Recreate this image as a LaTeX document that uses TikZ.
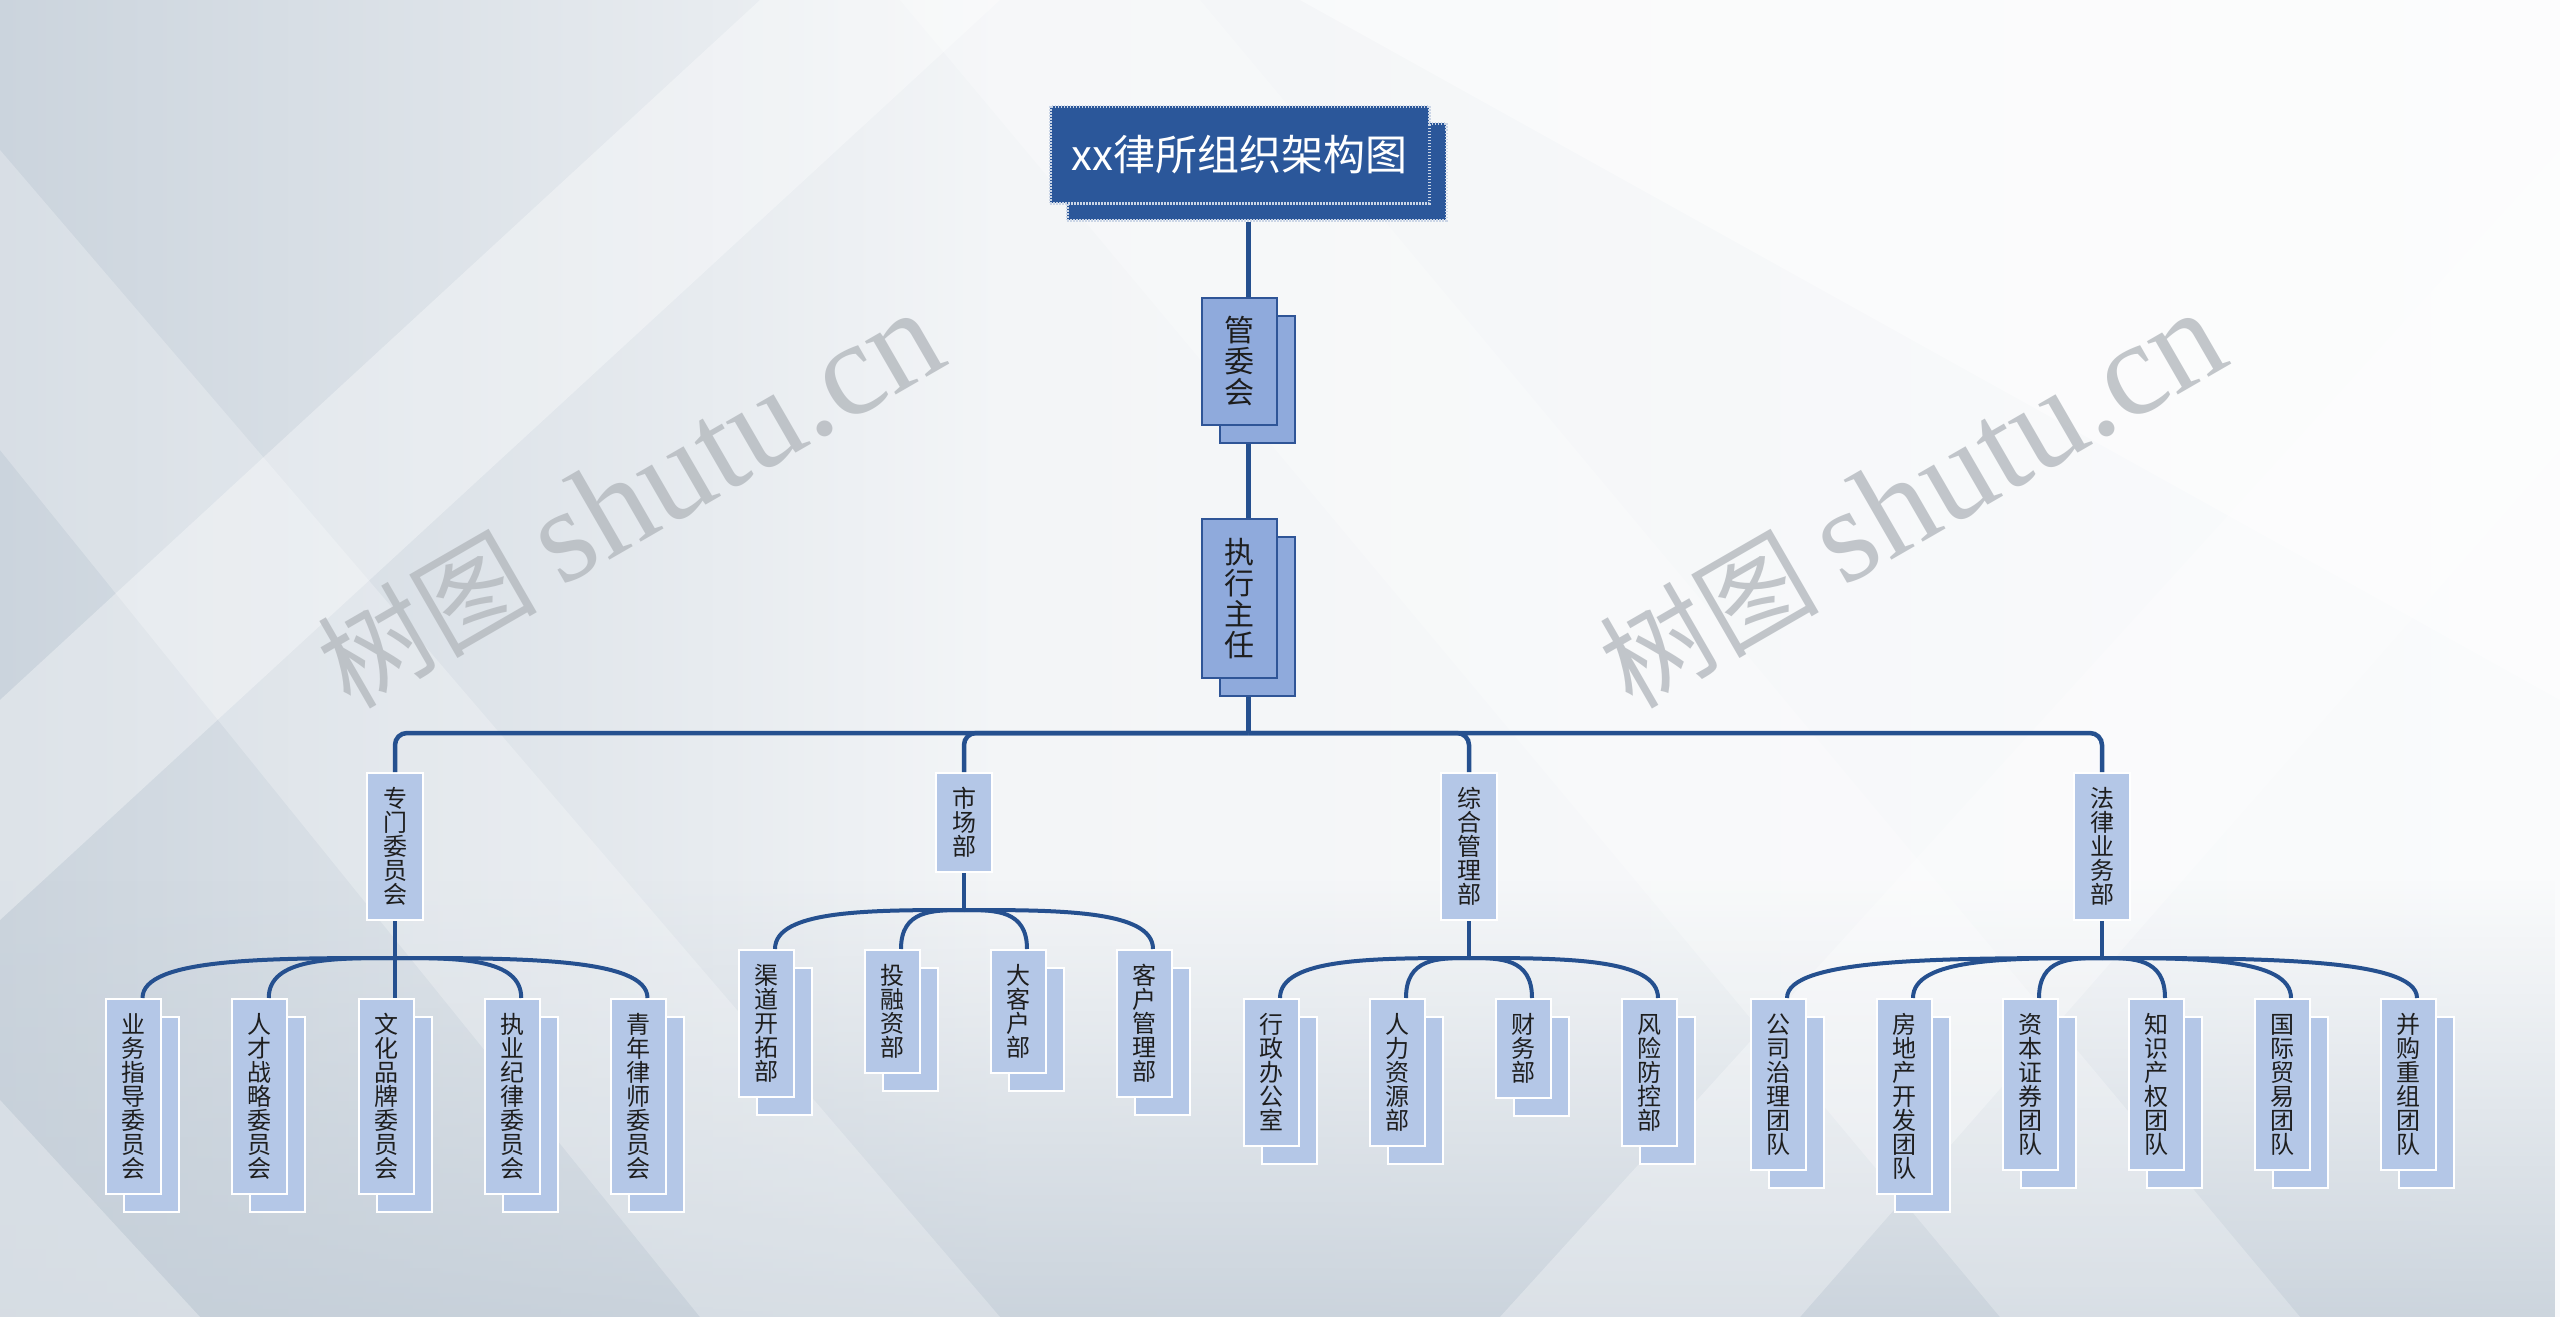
\documentclass[tikz,border=0pt]{standalone}
\usepackage{fontspec}
\setmainfont{Noto Sans CJK SC}
\newfontfamily\wmserif{Liberation Serif}
\usetikzlibrary{calc,fadings}
\definecolor{conn}{HTML}{25508F}
\definecolor{titlebl}{HTML}{2B579A}
\definecolor{lvone}{HTML}{8FAADC}
\definecolor{lvoneedge}{HTML}{2F5597}
\definecolor{leafbl}{HTML}{B4C7E7}
\definecolor{txt}{HTML}{1E1E1E}
\definecolor{wmgray}{HTML}{B4B9BE}
\definecolor{bgL}{HTML}{CBD4DD}
\definecolor{bgM}{HTML}{F3F5F7}
\definecolor{bgR}{HTML}{FAFBFC}
\definecolor{bgB}{HTML}{C4CED8}
\tikzset{
  mainline/.style={draw=conn, line width=4.5pt},
  subline/.style={draw=conn, line width=4pt},
  titlebox/.style={fill=titlebl, draw=white!75!titlebl, line width=3pt, dash pattern=on 1.5pt off 1.5pt, minimum width=379pt, minimum height=97pt, inner sep=0pt},
  lvbox/.style={fill=lvone, draw=lvoneedge, line width=2pt, minimum width=75pt, inner sep=0pt, text=txt, align=center, font=\fontsize{30}{31}\selectfont},
  midbox/.style={fill=leafbl, draw=white, line width=2pt, minimum width=56pt, inner sep=0pt, text=txt, align=center, font=\fontsize{24}{24}\selectfont, anchor=north},
  leafbox/.style={fill=leafbl, draw=white, line width=2pt, minimum width=55pt, inner sep=0pt, text=txt, align=center, font=\fontsize{24}{24}\selectfont},
  wmark/.style={rotate=30, text=wmgray, opacity=0.8, font=\fontsize{110}{130}\selectfont}
}
\newcommand\leaf[5]{%
  \node[leafbox, anchor=north, minimum height={#4*24+27}] (#1b) at ({#2+9},{#3+18}) {};
  \node[leafbox, anchor=north, minimum height={#4*24+27}] (#1) at ({#2-9},{#3}) {#5};
  \coordinate (#1c) at ($(#1.north)+(9,0)$);
}
\newcommand\branch[2]{\draw[subline] (#1) .. controls ($(#1)!0.5!(#1 -| #2)$) and (#1 -| #2) .. (#2);}
\begin{document}
\begin{tikzpicture}[x=1pt,y=-1pt]
\useasboundingbox (0,0) rectangle (2560,1317);
% background
\fill[bgM] (0,0) rectangle (2560,1317);
\shade[left color=bgL, right color=bgM] (0,0) rectangle (1000,1317);
\shade[left color=bgM, right color=bgR] (1000,0) rectangle (2560,1317);
\fill[bgB, path fading=north, fill opacity=0.85] (0,880) rectangle (2560,1317);
\fill[white, fill opacity=0.35] (0,700) -- (760,0) -- (1000,0) -- (0,920) -- cycle;
\fill[white, fill opacity=0.25] (900,0) -- (2000,1317) -- (2300,1317) -- (1200,0) -- cycle;
\fill[white, fill opacity=0.30] (2560,150) -- (1500,1317) -- (1800,1317) -- (2560,450) -- cycle;
\fill[white, fill opacity=0.25] (0,150) -- (1000,1317) -- (700,1317) -- (0,450) -- cycle;
\fill[white, fill opacity=0.45] (1300,0) -- (2560,0) -- (2560,700) -- cycle;
\fill[white, fill opacity=0.30] (0,1100) -- (0,1317) -- (200,1317) -- cycle;
% watermarks
\node[wmark] (wm1) at (630,500) {树图 {\wmserif\fontsize{134}{140}\selectfont shutu.cn}};
\node[wmark] (wm2) at (1912,500) {树图 {\wmserif\fontsize{134}{140}\selectfont shutu.cn}};
% top levels
\node[titlebox] (titleb) at (1256.5,171.5) {};
\node[titlebox, text=white, font=\fontsize{42}{50}\selectfont] (title) at (1239.5,154.5) {xx律所组织架构图};
\node[lvbox, minimum height=127pt] (gwb) at (1257.5,379.5) {};
\node[lvbox, minimum height=127pt] (gw) at (1239.5,361.5) {管\\委\\会};
\node[lvbox, minimum height=159pt] (exb) at (1257.5,616.5) {};
\node[lvbox, minimum height=159pt] (ex) at (1239.5,598.5) {执\\行\\主\\任};
\coordinate (bar) at (1248.5,733);
% second level
\node[midbox, minimum height=147pt] (zm) at (395,772) {专\\门\\委\\员\\会};
\node[midbox, minimum height=99pt] (sc) at (964,772) {市\\场\\部};
\node[midbox, minimum height=147pt] (zh) at (1469,772) {综\\合\\管\\理\\部};
\node[midbox, minimum height=147pt] (fl) at (2102,772) {法\\律\\业\\务\\部};
\coordinate (jA) at (395,958);
\coordinate (jB) at (964,910);
\coordinate (jC) at (1469,958);
\coordinate (jD) at (2102,958);
% leaves
\leaf{a1}{142.5}{998}{7}{业\\务\\指\\导\\委\\员\\会}
\leaf{a2}{268.75}{998}{7}{人\\才\\战\\略\\委\\员\\会}
\leaf{a3}{395}{998}{7}{文\\化\\品\\牌\\委\\员\\会}
\leaf{a4}{521.25}{998}{7}{执\\业\\纪\\律\\委\\员\\会}
\leaf{a5}{647.5}{998}{7}{青\\年\\律\\师\\委\\员\\会}
\leaf{b1}{775}{949}{5}{渠\\道\\开\\拓\\部}
\leaf{b2}{901}{949}{4}{投\\融\\资\\部}
\leaf{b3}{1027}{949}{4}{大\\客\\户\\部}
\leaf{b4}{1153}{949}{5}{客\\户\\管\\理\\部}
\leaf{c1}{1280}{998}{5}{行\\政\\办\\公\\室}
\leaf{c2}{1406}{998}{5}{人\\力\\资\\源\\部}
\leaf{c3}{1532}{998}{3}{财\\务\\部}
\leaf{c4}{1658}{998}{5}{风\\险\\防\\控\\部}
\leaf{d1}{1787}{998}{6}{公\\司\\治\\理\\团\\队}
\leaf{d2}{1913}{998}{7}{房\\地\\产\\开\\发\\团\\队}
\leaf{d3}{2039}{998}{6}{资\\本\\证\\券\\团\\队}
\leaf{d4}{2165}{998}{6}{知\\识\\产\\权\\团\\队}
\leaf{d5}{2291}{998}{6}{国\\际\\贸\\易\\团\\队}
\leaf{d6}{2417}{998}{6}{并\\购\\重\\组\\团\\队}
% connectors top
\draw[mainline] (titleb.south -| bar) -- (gw.north -| bar);
\draw[mainline] (gwb.south -| bar) -- (ex.north -| bar);
\draw[mainline] (exb.south -| bar) -- (bar);
\foreach \m in {zm,sc,zh,fl} \draw[mainline, rounded corners=12pt] (bar) -| (\m.north);
% second level to junctions
\draw[subline] (zm.south) -- (jA);
\draw[subline] (sc.south) -- (jB);
\draw[subline] (zh.south) -- (jC);
\draw[subline] (fl.south) -- (jD);
% branches
\branch{jA}{a1c} \branch{jA}{a2c} \draw[subline] (jA) -- (a3c); \branch{jA}{a4c} \branch{jA}{a5c}
\branch{jB}{b1c} \branch{jB}{b2c} \branch{jB}{b3c} \branch{jB}{b4c}
\branch{jC}{c1c} \branch{jC}{c2c} \branch{jC}{c3c} \branch{jC}{c4c}
\branch{jD}{d1c} \branch{jD}{d2c} \branch{jD}{d3c} \branch{jD}{d4c} \branch{jD}{d5c} \branch{jD}{d6c}
\end{tikzpicture}
\end{document}
